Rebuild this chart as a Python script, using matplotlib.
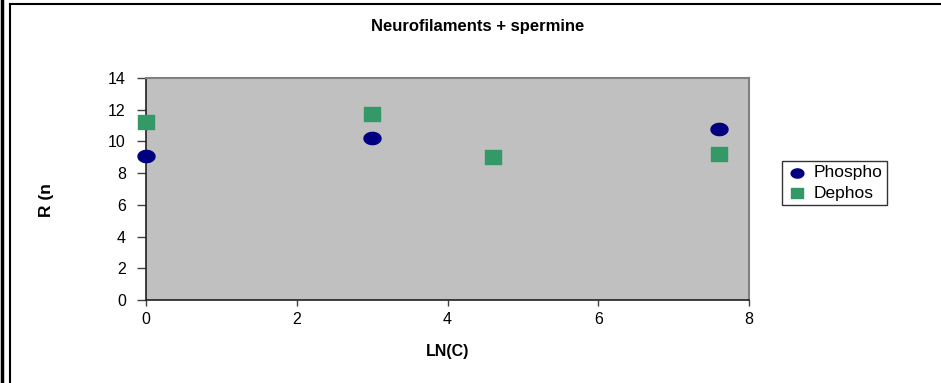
import matplotlib
matplotlib.use("Agg")
import matplotlib.pyplot as plt
from matplotlib.path import Path
from matplotlib.lines import Line2D
from matplotlib.patches import Rectangle
import numpy as np

# data
phospho_x = [0.0, 3.0, 7.6]
phospho_y = [9.1, 10.2, 10.8]
dephos_x = [0.0, 3.0, 4.6, 7.6]
dephos_y = [11.2, 11.7, 9.0, 9.2]
x_ticks = [0, 2, 4, 6, 8]
y_ticks = [0, 2, 4, 6, 8, 10, 12, 14]

plt.rcParams['font.family'] = ['Liberation Sans', 'DejaVu Sans']

W, H = 941, 383
fig = plt.figure(figsize=(W / 100, H / 100), dpi=100)

def fx(px):
    return px / W

def fy(py):
    return 1 - py / H

# flattened markers (Excel draws them a bit wider than tall)
t = np.linspace(0, 2 * np.pi, 40)
ellipse = Path(np.column_stack([np.cos(t), 0.72 * np.sin(t)]))
rect = Path([(-1, -0.85), (1, -0.85), (1, 0.85), (-1, 0.85), (-1, -0.85)],
            [Path.MOVETO, Path.LINETO, Path.LINETO, Path.LINETO, Path.CLOSEPOLY])

ax = fig.add_axes([fx(146), fy(300), fx(749) - fx(146), fy(78) - fy(300)])
ax.set_facecolor('#c0c0c0')
ax.scatter(phospho_x, phospho_y, marker=ellipse, s=150, color='#000080',
           label='Phospho', zorder=3, clip_on=False)
ax.scatter(dephos_x, dephos_y, marker=rect, s=130, color='#339966',
           label='Dephos', zorder=3, clip_on=False)

ax.set_xlim(0, 8)
ax.set_ylim(0, 14)
ax.set_xticks(x_ticks)
ax.set_yticks(y_ticks)
ax.tick_params(direction='out', width=1, color='#404040', labelsize=11.5)
ax.tick_params(axis='y', length=6.5, pad=8)
ax.tick_params(axis='x', length=4, pad=5)
for side in ['top', 'right']:
    ax.spines[side].set_color('#808080')
    ax.spines[side].set_linewidth(1.5)
for side in ['left', 'bottom']:
    ax.spines[side].set_color('#202020')
    ax.spines[side].set_linewidth(1.2)

ax.set_xlabel('LN(C)', fontsize=11.5, fontweight='bold', labelpad=12)

# y label is cut off at the top in the original
ylab = fig.text(fx(47), fy(217), 'R (nm)', rotation=90, ha='center',
                va='bottom', fontsize=12.5, fontweight='bold')
clip = Rectangle((0, 0), 1, fy(183), transform=fig.transFigure)
ylab.set_clip_path(clip)

fig.text(fx(478), fy(27), 'Neurofilaments + spermine', ha='center',
         va='center', fontsize=12, fontweight='bold')

leg = ax.legend(loc='upper left', bbox_to_anchor=(fx(782), fy(161)),
                bbox_transform=fig.transFigure, fontsize=12.5,
                frameon=True, fancybox=False, borderpad=0.25,
                handletextpad=0.4, labelspacing=0.3, handlelength=1.2,
                markerscale=0.75, borderaxespad=0)
leg.get_frame().set_edgecolor('black')
leg.get_frame().set_linewidth(1)

# chart border lines
fig.add_artist(Line2D([fx(1.5), fx(1.5)], [0, 1], color='black', lw=2.5,
                      transform=fig.transFigure))
fig.add_artist(Line2D([fx(9.5), fx(9.5)], [0, fy(4)], color='black', lw=1.5,
                      transform=fig.transFigure))
fig.add_artist(Line2D([fx(9.5), 1], [fy(4), fy(4)], color='black', lw=1.5,
                      transform=fig.transFigure))

fig.savefig('out.png', dpi=100)
